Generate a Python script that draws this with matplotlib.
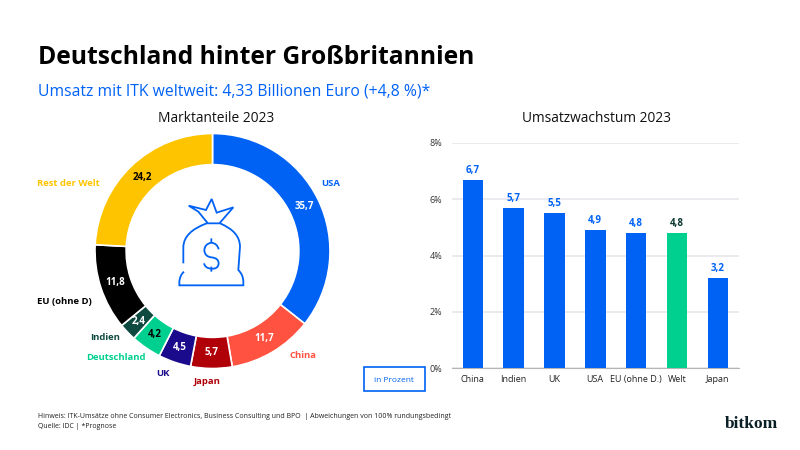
import numpy as np
import matplotlib
matplotlib.use('Agg')
import matplotlib.pyplot as plt
from matplotlib.path import Path
from matplotlib.patches import PathPatch, Rectangle

plt.rcParams['font.family'] = ['Open Sans', 'DejaVu Sans']

# donut data, clockwise from the top
share_labels = ['USA', 'China', 'Japan', 'UK', 'Deutschland', 'Indien', 'EU (ohne D)', 'Rest der Welt']
share_values = [35.7, 11.7, 5.7, 4.5, 4.2, 2.4, 11.8, 24.2]
share_colors = ['#0062F5', '#FF5240', '#B00008', '#1A0A8C', '#00D08F', '#0F4A40', '#000000', '#FFC400']
share_text = ['white', 'white', 'white', 'white', 'black', 'white', 'white', 'black']

# bar data
growth_labels = ['China', 'Indien', 'UK', 'USA', 'EU (ohne D.)', 'Welt', 'Japan']
growth_values = [6.7, 5.7, 5.5, 4.9, 4.8, 4.8, 3.2]
growth_ticks = [0, 2, 4, 6, 8]

BLUE = '#0062F5'
GREEN = '#00D08F'
W, H = 800, 450


def px_axes(fig, left, top, right, bottom, **kw):
    # axes from pixel box, y counted from the top like in the picture
    return fig.add_axes([left / W, 1 - bottom / H, (right - left) / W, (bottom - top) / H], **kw)


def fmt(v):
    return str(v).replace('.', ',')


fig = plt.figure(figsize=(8, 4.5), dpi=100, facecolor='white')

# overlay in pixel coordinates for the free text
bg = fig.add_axes([0, 0, 1, 1])
bg.set_xlim(0, W)
bg.set_ylim(H, 0)
bg.axis('off')

bg.text(38, 58, 'Deutschland hinter Großbritannien', fontsize=17.7, fontweight='bold', color='black', va='center')
bg.text(38, 91, 'Umsatz mit ITK weltweit: 4,33 Billionen Euro (+4,8 %)*', fontsize=11.3, color=BLUE, va='center')
bg.text(216.5, 118, 'Marktanteile 2023', fontsize=9.9, color='#111111', ha='center', va='center')
bg.text(597, 118, 'Umsatzwachstum 2023', fontsize=9.9, color='#111111', ha='center', va='center')

# donut
cx, cy, R = 212.5, 251, 117.5
pad = 1.1
ax1 = px_axes(fig, cx - R * pad, cy - R * pad, cx + R * pad, cy + R * pad)
wedges, _ = ax1.pie(share_values, colors=share_colors, startangle=90, counterclock=False, radius=1,
                    wedgeprops=dict(width=0.265, edgecolor='white', linewidth=1.2))
ax1.set_xlim(-pad, pad)
ax1.set_ylim(-pad, pad)
ax1.patch.set_alpha(0)

for w, v, c in zip(wedges, share_values, share_text):
    a = np.deg2rad((w.theta1 + w.theta2) / 2)
    ax1.text(0.867 * np.cos(a), 0.867 * np.sin(a), fmt(v), color=c, fontsize=7, fontweight='bold',
             ha='center', va='center')

# outer labels sit by hand like in the original
label_pos = [(331, 184), (303, 356), (207, 382), (163, 373), (116, 357), (105, 338), (64, 302), (68, 184)]
label_colors = [BLUE, '#FF5240', '#B00008', '#1A0A8C', '#00D08F', '#0F4A40', '#000000', '#FFC400']
for name, (x, y), c in zip(share_labels, label_pos, label_colors):
    bg.text(x, y, name, color=c, fontsize=6.8, fontweight='bold', ha='center', va='center')

# money bag icon, drawn in zoomed crop coordinates
def z(x, y):
    return (20 + x / 3, 100 + y / 3)

bag = [
    (Path.MOVETO, (490, 490)), (Path.LINETO, (490, 440)),
    (Path.CURVE3, (492, 395)), (Path.CURVE3, (560, 370)),
    (Path.LINETO, (600, 370)),
    (Path.CURVE3, (660, 395)), (Path.CURVE3, (660, 440)),
    (Path.LINETO, (655, 510)),
    (Path.CURVE3, (670, 525)), (Path.CURVE3, (670, 545)),
    (Path.LINETO, (670, 556)), (Path.LINETO, (478, 556)), (Path.LINETO, (478, 545)),
    (Path.CURVE3, (480, 525)), (Path.CURVE3, (492, 515)),
    (Path.MOVETO, (562, 368)), (Path.LINETO, (535, 335)), (Path.LINETO, (506, 317)),
    (Path.LINETO, (558, 330)), (Path.LINETO, (575, 297)), (Path.LINETO, (590, 338)),
    (Path.LINETO, (640, 322)), (Path.LINETO, (600, 368)),
    (Path.MOVETO, (574, 415)), (Path.LINETO, (574, 430)),
    (Path.MOVETO, (574, 500)), (Path.LINETO, (574, 515)),
]
bag_path = Path([z(*p) for _, p in bag], [c for c, _ in bag])
bg.add_patch(PathPatch(bag_path, fill=False, edgecolor=BLUE, linewidth=1.3, zorder=5))
dollar = Path([z(*p) for p in [(596, 448), (592, 430), (574, 428), (553, 432), (553, 452), (555, 470), (574, 472),
                               (596, 474), (596, 490), (595, 508), (574, 506), (555, 505), (552, 490)]],
              [Path.MOVETO] + [Path.CURVE3] * 12)
bg.add_patch(PathPatch(dollar, fill=False, edgecolor=BLUE, linewidth=1.3, zorder=5))

# bars
ax2 = px_axes(fig, 452, 143, 739, 368)
x = np.arange(len(growth_values))
bar_colors = [GREEN if n == 'Welt' else BLUE for n in growth_labels]
ax2.bar(x, growth_values, width=0.5, color=bar_colors, zorder=3)
ax2.set_xlim(-0.51, 6.52)
ax2.set_ylim(0, 8)
ax2.set_yticks(growth_ticks)
ax2.set_yticklabels([f'{t}%' for t in growth_ticks], fontsize=6.5, color='#333333')
ax2.set_xticks(x)
ax2.set_xticklabels(growth_labels, fontsize=6.5, color='#222222')
ax2.grid(axis='y', color='#E8E8EC', linewidth=1.2, zorder=0)
ax2.tick_params(length=0, pad=5)
ax2.tick_params(axis='y', pad=7)
for s in ['top', 'right', 'left']:
    ax2.spines[s].set_visible(False)
ax2.spines['bottom'].set_color('#B5B5B5')
ax2.patch.set_alpha(0)
for i, v in enumerate(growth_values):
    ax2.text(i, v + 0.14, fmt(v), ha='center', va='bottom', fontsize=7, fontweight='bold',
             color='#0F3A33' if growth_labels[i] == 'Welt' else BLUE)

# unit box
bg.add_patch(Rectangle((363.5, 367), 61.5, 24, fill=False, edgecolor=BLUE, linewidth=1.2))
bg.text(394, 380, 'in Prozent', fontsize=6, color=BLUE, ha='center', va='center')

# footer
bg.text(38, 416, 'Hinweis: ITK-Umsätze ohne Consumer Electronics, Business Consulting und BPO  | Abweichungen von 100% rundungsbedingt',
        fontsize=5.0, color='#222222', va='center')
bg.text(38, 426, 'Quelle: IDC | *Prognose', fontsize=5.0, color='#222222', va='center')
bg.text(751, 424, 'bitkom', fontsize=12.5, family='Liberation Serif', fontweight='bold', color='#0B1F26',
        ha='center', va='center')

fig.savefig('out.png', dpi=100)
